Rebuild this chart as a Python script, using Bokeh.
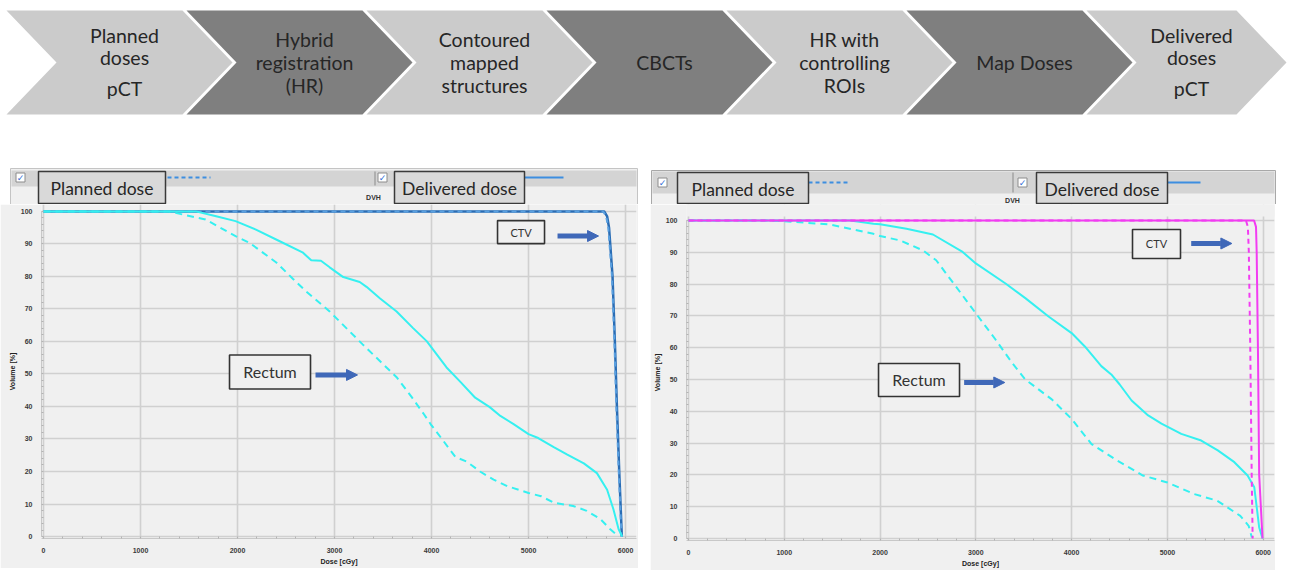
from bokeh.plotting import figure
from bokeh.layouts import column, row
from bokeh.models import Range1d, SingleIntervalTicker, Arrow, NormalHead, Spacer
from bokeh.core.properties import value
from bokeh.embed import file_html
from bokeh.resources import INLINE

# ---------------- data ----------------
steps = [
    ["Planned", "doses", "pCT"],
    ["Hybrid", "registration", "(HR)"],
    ["Contoured", "mapped", "structures"],
    ["CBCTs"],
    ["HR with", "controlling", "ROIs"],
    ["Map Doses"],
    ["Delivered", "doses", "pCT"],
]

legend_labels = ["Planned dose", "Delivered dose"]
x_ticks = [0, 1000, 2000, 3000, 4000, 5000, 6000]
y_ticks = [0, 10, 20, 30, 40, 50, 60, 70, 80, 90, 100]

# Left panel (CTV blue, Rectum cyan)
L_ctv_del_dose = [0, 5780, 5810, 5830, 5842, 5866, 5890, 5911, 5935, 5962]
L_ctv_del_vol = [100, 100, 98.5, 95, 90, 80, 60, 40, 20, 0]
L_ctv_pla_dose = [0, 5770, 5800, 5822, 5835, 5860, 5885, 5905, 5930, 5958]
L_ctv_pla_vol = [100, 100, 98.5, 95, 90, 80, 60, 40, 20, 0]

L_rec_del_dose = [0, 1570, 1780, 1980, 2190, 2430, 2670, 2760, 2860, 2950, 3090, 3260, 3330,
                  3470, 3640, 3810, 3950, 4155, 4300, 4450, 4600, 4710, 4850, 5000, 5100, 5260,
                  5400, 5570, 5705, 5810, 5875, 5928, 5965]
L_rec_del_vol = [100, 100, 98.5, 97, 94.4, 90.9, 87.4, 85, 84.8, 82.8, 79.8, 78.3, 76.8,
                 73.2, 69.2, 64.1, 60.1, 52, 47.5, 42.7, 39.8, 37.1, 34.5, 31.5, 30.3, 27.5,
                 25.2, 22.5, 19.5, 14.4, 8.4, 2.3, 0]
L_rec_pla_dose = [0, 1290, 1670, 1980, 2120, 2400, 2570, 2710, 2950, 3290, 3640, 3800, 3915,
                  3990, 4120, 4245, 4365, 4500, 4640, 4780, 5000, 5130, 5260, 5460, 5600, 5740,
                  5840, 5930]
L_rec_pla_vol = [100, 100, 97.5, 92.4, 90.4, 84.3, 79.3, 75.3, 69.2, 59.1, 49, 42.7, 37.9,
                 34.6, 29.5, 24.5, 23, 20, 17.5, 15.5, 13.4, 12.4, 10.4, 9.4, 7.9, 5.4,
                 2.3, 0]

# Right panel (CTV magenta, Rectum cyan)
R_ctv_del_dose = [0, 5905, 5925, 5932, 5945, 5958, 5993]
R_ctv_del_vol = [100, 100, 98, 90, 60, 20, 0]
R_ctv_pla_dose = [0, 5820, 5840, 5850, 5865, 5880, 5890]
R_ctv_pla_vol = [100, 100, 98, 90, 60, 20, 0]

R_rec_del_dose = [0, 1690, 1931, 2000, 2276, 2552, 2862, 3000, 3310, 3520, 3759, 4000, 4138,
                  4310, 4414, 4500, 4626, 4799, 4938, 5145, 5353, 5526, 5699, 5837, 5907,
                  5924, 5958, 5993]
R_rec_del_vol = [100, 100, 99, 98.8, 97.4, 95.6, 90.1, 86.5, 80.2, 75.5, 69.8, 64.6, 60.4,
                 54.2, 51.6, 48.5, 43.4, 38.7, 36.1, 32.9, 30.8, 27.7, 24, 19.8, 16.1,
                 11.9, 3.5, 0]
R_rec_pla_dose = [0, 830, 1000, 1474, 1931, 2000, 2207, 2448, 2586, 2793, 3000, 3207, 3379,
                  3517, 3650, 3793, 4000, 4208, 4450, 4744, 5000, 5277, 5519, 5761, 5848, 5882]
R_rec_pla_vol = [100, 100, 99.8, 98.75, 95.8, 95.1, 93.75, 90.6, 87.5, 79.2, 70.8, 62.5, 55.2,
                 50, 47, 43.75, 37.6, 29.7, 25, 19.8, 17.6, 14, 11.9, 7.1, 4, 0.3]

# ---------------- styles ----------------
FONT = value("Lato")
CYAN = "#35f0f0"
MAGENTA = "#f23cf2"
BLUE_D = "#2a6db5"
BLUE_L = "#5aa0e0"
ARROW = "#3f68b8"
PANEL_BG = "#f0f0f0"

# ---------------- top canvas: chevrons + panel header strips ----------------
top = figure(width=1290, height=204, x_range=Range1d(0, 1290), y_range=Range1d(204, 0),
             x_axis_type=None, y_axis_type=None, toolbar_location=None,
             output_backend="svg", min_border=0, outline_line_color=None,
             background_fill_color="white", border_fill_color="white", title=None)
top.grid.visible = False

xs, ys, cols = [], [], []
tx, ty, tt = [], [], []
for i, lines in enumerate(steps):
    x0 = 6 + 180 * i
    L = 176 if i < len(steps) - 1 else 150
    d = 50
    xs.append([x0, x0 + L, x0 + L + d, x0 + L, x0, x0 + d])
    ys.append([10, 10, 62, 114, 114, 62])
    cols.append("#cbcbcb" if i % 2 == 0 else "#7f7f7f")
    cx = x0 + (L + d) / 2 + 5
    if len(lines) == 1:
        yl = [62]
    elif lines[-1] == "pCT":
        yl = [35, 57, 88]
    else:
        yl = [39, 62, 85]
    for s, yy in zip(lines, yl):
        tx.append(cx)
        ty.append(yy)
        tt.append(s)
top.patches(xs, ys, fill_color=cols, line_color=None)
top.text(tx, ty, text=tt, text_font=FONT, text_font_size="19.5px", text_align="center",
         text_baseline="middle", text_color="#262626")


def header(p, pl, pr, ptop, bar, cb1, cb2, sep_x, dash_seg, solid_seg, box1, box2, dvh, edge):
    p.quad(left=[pl], right=[pr], top=[ptop], bottom=[206],
           fill_color=PANEL_BG, line_color=edge, line_width=1)
    p.quad(left=[pl + 1], right=[pr - 1], top=[bar[0]], bottom=[bar[1]],
           fill_color="#d4d4d4", line_color=None)
    p.rect(x=[cb1[0], cb2[0]], y=[cb1[1], cb2[1]], width=9, height=9,
           fill_color="white", line_color="#8c8c8c", line_width=1)
    p.text(x=[cb1[0], cb2[0]], y=[cb1[1] + 0.5, cb2[1] + 0.5], text=["✓", "✓"],
           text_font=value("DejaVu Sans"), text_font_size="9px", text_color="#2f6fd6",
           text_align="center", text_baseline="middle")
    p.segment(x0=[sep_x], y0=[bar[0] + 1], x1=[sep_x], y1=[bar[1] - 1],
              line_color="#8a8a8a", line_width=1)
    p.line(dash_seg[0], dash_seg[1], line_color="#3d8ee0", line_width=2, line_dash="4 3")
    p.line(solid_seg[0], solid_seg[1], line_color="#3d8ee0", line_width=2)
    for (l, r, t, b), lab in zip([box1, box2], legend_labels):
        p.quad(left=[l], right=[r], top=[t], bottom=[b], fill_color="#d9d9d9",
               line_color="#3a3a3a", line_width=1.5)
        p.text(x=[(l + r) / 2], y=[(t + b) / 2 + 1], text=[lab], text_font=FONT,
               text_font_size="17.5px", text_align="center", text_baseline="middle",
               text_color="#262626")
    p.text(x=[dvh[0]], y=[dvh[1]], text=["DVH"], text_font=value("Liberation Sans"),
           text_font_size="7px", text_font_style="bold", text_align="center",
           text_baseline="middle", text_color="#333333")


header(top, 10, 637, 168, (170, 186), (20, 177), (382, 177), 374.5,
       ([167, 210], [177, 177]), ([524, 563], [177, 177]),
       (38, 165, 171, 203), (394, 524, 171, 203), (373, 197), "#c4c4c4")
header(top, 651, 1275, 170, (171, 193), (662, 182), (1022, 182), 1012.5,
       ([808, 850], [182, 182]), ([1167, 1200], [182, 182]),
       (677, 808, 172, 203), (1036, 1167, 172, 203), (1012, 200), "#a8a8a8")


# ---------------- DVH plots ----------------
def dvh_fig(w, h, ml, mr, mb, xr, yr):
    p = figure(width=w, height=h, x_range=Range1d(*xr), y_range=Range1d(*yr),
               output_backend="svg", toolbar_location=None, title=None,
               min_border_left=ml, min_border_right=mr, min_border_top=0, min_border_bottom=mb,
               background_fill_color=PANEL_BG, border_fill_color=PANEL_BG,
               outline_line_color=None)
    p.xaxis.ticker = SingleIntervalTicker(interval=1000, num_minor_ticks=5)
    p.yaxis.ticker = SingleIntervalTicker(interval=10, num_minor_ticks=5)
    p.yaxis.bounds = (0, 100)
    p.xaxis.axis_label = "Dose [cGy]"
    p.yaxis.axis_label = "Volume [%]"
    for ax in p.axis:
        ax.major_label_text_font = "Liberation Sans"
        ax.major_label_text_font_size = "7px"
        ax.major_label_text_font_style = "bold"
        ax.major_label_text_color = "#3a3a3a"
        ax.axis_label_text_font = "Liberation Sans"
        ax.axis_label_text_font_size = "7px"
        ax.axis_label_text_font_style = "bold"
        ax.axis_label_text_color = "#222222"
        ax.axis_line_color = "#c8c8c8"
        ax.major_tick_line_color = None
        ax.minor_tick_line_color = "#b4b4b4"
        ax.minor_tick_in = 2
        ax.minor_tick_out = 0
        ax.major_label_standoff = 3
        ax.axis_label_standoff = 2
    p.xgrid.grid_line_color = "#d0d0d0"
    p.ygrid.grid_line_color = "#d0d0d0"
    p.xgrid.grid_line_width = 1.6
    p.ygrid.grid_line_width = 1.6
    return p


def callout(p, cx, cy, bw, bh, label, fsize, ax0, ax1, ay):
    p.rect(x=[cx], y=[cy], width=bw, height=bh, width_units="screen", height_units="screen",
           fill_color=PANEL_BG, line_color="#333333", line_width=1.6)
    p.text(x=[cx], y=[cy], text=[label], text_font=FONT, text_font_size=fsize,
           text_align="center", text_baseline="middle", text_color="#333333")
    p.add_layout(Arrow(end=NormalHead(size=11, fill_color=ARROW, line_color=ARROW),
                       x_start=ax0, y_start=ay, x_end=ax1, y_end=ay,
                       line_color=ARROW, line_width=5))


# left plot: page x 0..638, y 204..568; frame x 41..636, y 204..543
lp = dvh_fig(638, 364, 41, 2, 25, (-20.6, 6113), (-0.606, 102.12))
lp.line(L_ctv_del_dose, L_ctv_del_vol, line_color=BLUE_D, line_width=2.5)
lp.line(L_ctv_pla_dose, L_ctv_pla_vol, line_color=BLUE_L, line_width=2, line_dash="5 4")
lp.line(L_rec_pla_dose, L_rec_pla_vol, line_color=CYAN, line_width=2, line_dash="7 5")
lp.line(L_rec_del_dose, L_rec_del_vol, line_color=CYAN, line_width=2)
Lx = lambda px: (px - 43) / 0.097
Ly = lambda py: (541 - py) / 3.3
callout(lp, Lx(520.5), Ly(232), 47, 23, "CTV", "11px", Lx(557), Lx(598), Ly(236))
callout(lp, Lx(269.5), Ly(374), 81, 34, "Rectum", "16px", Lx(315), Lx(357), Ly(377))

# right plot: page x 650..1275, y 204..570; frame x 681..1274, y 204..540
rp = dvh_fig(625, 366, 31, 1, 30, (-20.7, 6118), (-0.63, 105.03))
Rx = lambda px: (px - 683) / 0.0966
Ry = lambda py: (538 - py) / 3.18
# hide grid above the plotting area (header gap)
rp.quad(left=[-30], right=[6200], bottom=[Ry(216)], top=[106], fill_color=PANEL_BG,
        line_color=None)
rp.line(R_rec_pla_dose, R_rec_pla_vol, line_color=CYAN, line_width=2, line_dash="7 5")
rp.line(R_rec_del_dose, R_rec_del_vol, line_color=CYAN, line_width=2)
rp.line(R_ctv_pla_dose, R_ctv_pla_vol, line_color=MAGENTA, line_width=2, line_dash="5 4")
rp.line(R_ctv_del_dose, R_ctv_del_vol, line_color=MAGENTA, line_width=2)
callout(rp, Rx(1155), Ry(243.5), 48, 29, "CTV", "11px", Rx(1190), Rx(1231), Ry(243))
callout(rp, Rx(915.5), Ry(379.5), 81, 33, "Rectum", "16px", Rx(961), Rx(1002), Ry(382))

page = column(top, row(lp, Spacer(width=12, height=10), rp))
open("out.html", "w").write(file_html(page, INLINE))
